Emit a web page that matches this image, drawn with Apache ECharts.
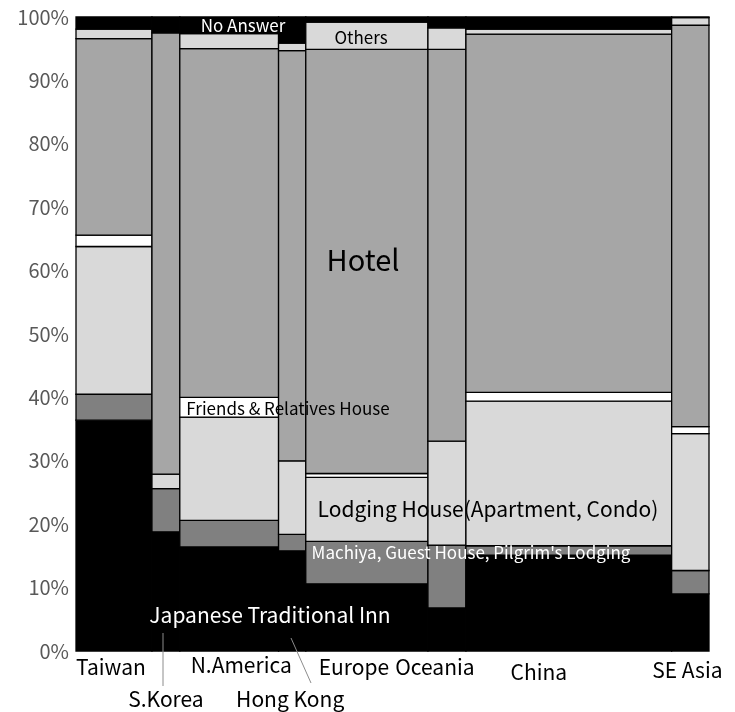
<!DOCTYPE html>
<html lang="en">
<head>
<meta charset="UTF-8">
<title>Lodging type by region</title>
<script src="https://cdn.jsdelivr.net/npm/echarts@6.0.0/dist/echarts.min.js"></script>
<style>
  body { margin: 0; background: #fff; }
</style>
</head>
<body>
<div id="main" style="width:735px;height:712px;"></div>
<script>
// regions and their share of respondents (column widths)
const regions = ['Taiwan', 'S.Korea', 'N.America', 'Hong Kong', 'Europe', 'Oceania', 'China', 'SE Asia'];
const regionShare = [12.0, 4.4, 15.6, 4.3, 19.3, 6.0, 32.5, 5.9];

// percentages, bottom to top
const inn      = [36.4, 18.8, 16.4, 15.8, 10.6, 6.8, 15.1, 9.0];
const machiya  = [4.1, 6.8, 4.2, 2.6, 6.7, 9.9, 1.5, 3.7];
const lodging  = [23.3, 2.3, 16.3, 11.6, 10.1, 16.4, 22.8, 21.6];
const friends  = [1.8, 0, 3.1, 0, 0.6, 0, 1.4, 1.1];
const hotel    = [31.0, 69.6, 55.0, 64.7, 66.9, 61.8, 56.5, 63.3];
const others   = [1.5, 0, 2.4, 1.2, 4.3, 3.4, 0.8, 1.2];
const noAnswer = regions.map((r, i) =>
  Math.max(0, 100 - inn[i] - machiya[i] - lodging[i] - friends[i] - hotel[i] - others[i]));

const yTicks = [0, 10, 20, 30, 40, 50, 60, 70, 80, 90, 100];

const segments = [inn, machiya, lodging, friends, hotel, others, noAnswer];
const segColors = ['#000000', '#808080', '#d9d9d9', '#ffffff', '#a6a6a6', '#d9d9d9', '#000000'];

// build rectangles: [x0, x1, y0, y1, segment]
let rects = [];
let x = 0;
for (let i = 0; i < regions.length; i++) {
  let y = 0;
  for (let s = 0; s < segments.length; s++) {
    const v = segments[s][i];
    if (v > 0) rects.push([x, x + regionShare[i], y, y + v, s]);
    y += v;
  }
  x += regionShare[i];
}
const total = x;

let myChart = echarts.init(document.getElementById('main'));
const font = 'Noto Sans CJK JP';

let options = {
  animation: false,
  grid: { left: 76, right: 26, top: 17, bottom: 61 },
  xAxis: { type: 'value', min: 0, max: total, show: false },
  yAxis: {
    type: 'value', min: 0, max: 100, interval: 10,
    axisLine: { show: false }, axisTick: { show: false }, splitLine: { show: false },
    axisLabel: {
      formatter: v => yTicks.includes(v) ? v + '%' : '',
      color: '#595959', fontSize: 20, margin: 7,
      fontFamily: font
    }
  },
  series: [{
    type: 'custom',
    data: rects,
    encode: { x: [0, 1], y: [2, 3] },
    renderItem: (params, api) => {
      const p0 = api.coord([api.value(0), api.value(3)]);
      const p1 = api.coord([api.value(1), api.value(2)]);
      return {
        type: 'rect',
        shape: { x: p0[0], y: p0[1], width: p1[0] - p0[0], height: p1[1] - p0[1] },
        style: { fill: segColors[api.value(4)], stroke: '#000', lineWidth: 1.3 }
      };
    }
  }]
};

myChart.setOption(options);

// category labels under the columns, some staggered to a second row
const labelRow = { 'S.Korea': 1, 'Hong Kong': 1 };
const labelDx = { 'Taiwan': -3, 'N.America': 12, 'Europe': -13, 'Oceania': -12, 'China': -30, 'SE Asia': -3, 'Hong Kong': -2 };
const labelDy = { 'China': 5, 'SE Asia': 3, 'N.America': -2 };

let graphics = [];
let acc = 0;
regions.forEach((r, i) => {
  const cx = myChart.convertToPixel({ xAxisIndex: 0 }, acc + regionShare[i] / 2);
  acc += regionShare[i];
  const row = labelRow[r] || 0;
  graphics.push({
    type: 'text', z: 100,
    style: {
      text: r, x: cx + (labelDx[r] || 0), y: 667 + row * 32 + (labelDy[r] || 0),
      fill: '#000', fontSize: 21, fontFamily: font, align: 'center', verticalAlign: 'middle'
    }
  });
});

// leader lines for the staggered labels
graphics.push({ type: 'line', z: 100, shape: { x1: 163, y1: 633, x2: 163, y2: 686 }, style: { stroke: '#8c8c8c', lineWidth: 1 } });
graphics.push({ type: 'line', z: 100, shape: { x1: 291, y1: 638, x2: 311, y2: 683 }, style: { stroke: '#8c8c8c', lineWidth: 1 } });

// segment names inside the chart
const notes = [
  { text: 'No Answer', x: 243, y: 26, size: 17, color: '#fff' },
  { text: 'Others', x: 361, y: 38, size: 17, color: '#000' },
  { text: 'Hotel', x: 363, y: 260, size: 29, color: '#000' },
  { text: 'Friends & Relatives House', x: 288, y: 409, size: 17, color: '#000' },
  { text: 'Lodging House(Apartment, Condo)', x: 488, y: 509, size: 21, color: '#000' },
  { text: "Machiya, Guest House, Pilgrim's Lodging", x: 471, y: 553, size: 17, color: '#fff' },
  { text: 'Japanese Traditional Inn', x: 270, y: 615, size: 21, color: '#fff' }
];
notes.forEach(n => graphics.push({
  type: 'text', z: 100,
  style: {
    text: n.text, x: n.x, y: n.y, fill: n.color, fontSize: n.size,
    fontFamily: font, align: 'center', verticalAlign: 'middle'
  }
}));

myChart.setOption({ graphic: graphics });
</script>
</body>
</html>
